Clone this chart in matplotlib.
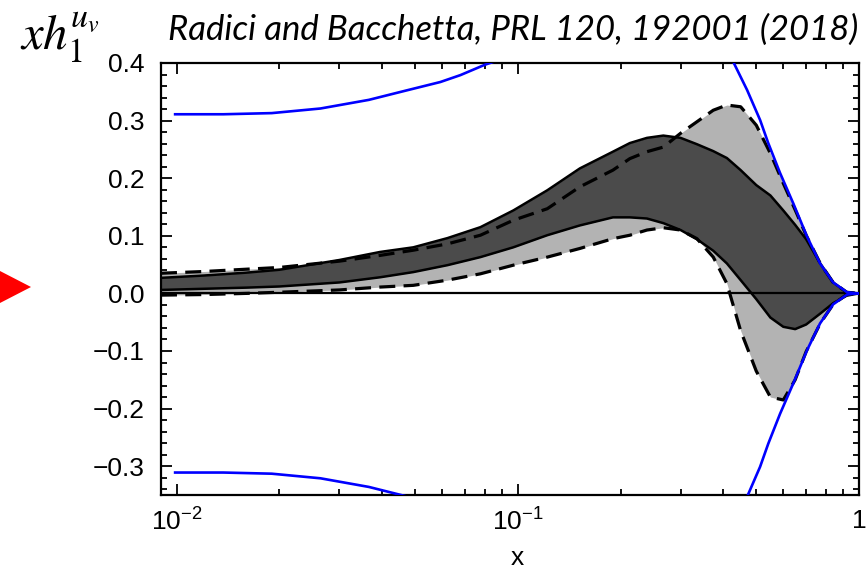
import matplotlib
matplotlib.use("Agg")
import matplotlib.pyplot as plt
from matplotlib.patches import Polygon
from matplotlib.ticker import FixedLocator, FixedFormatter, LogLocator, NullFormatter, MultipleLocator

# ---------------- data ----------------
x = [0.009, 0.012, 0.016, 0.02, 0.03, 0.0395, 0.0494, 0.0622, 0.0777, 0.097,
     0.122, 0.152, 0.19, 0.213, 0.239, 0.267, 0.30, 0.335, 0.374, 0.41,
     0.45, 0.50, 0.55, 0.60, 0.65, 0.70, 0.77, 0.84, 0.92, 1.0]

dark_upper = [0.027, 0.031, 0.036, 0.041, 0.058, 0.072, 0.080, 0.096, 0.115, 0.144,
              0.179, 0.217, 0.246, 0.261, 0.270, 0.274, 0.270, 0.259, 0.247, 0.235,
              0.214, 0.188, 0.170, 0.144, 0.119, 0.094, 0.052, 0.019, 0.002, 0.0]

dark_lower = [0.006, 0.008, 0.010, 0.012, 0.019, 0.028, 0.037, 0.049, 0.063, 0.080,
              0.101, 0.118, 0.132, 0.132, 0.130, 0.122, 0.110, 0.094, 0.074, 0.052,
              0.023, -0.010, -0.042, -0.058, -0.062, -0.054, -0.035, -0.017, -0.004, 0.0]

light_upper = [0.035, 0.038, 0.042, 0.045, 0.056, 0.066, 0.075, 0.086, 0.101, 0.127,
               0.147, 0.185, 0.214, 0.234, 0.246, 0.254, 0.278, 0.298, 0.318, 0.327,
               0.324, 0.292, 0.243, 0.191, 0.145, 0.101, 0.052, 0.019, 0.002, 0.0]

light_lower = [-0.003, -0.002, 0.000, 0.002, 0.006, 0.011, 0.014, 0.023, 0.034, 0.049,
               0.063, 0.078, 0.095, 0.101, 0.110, 0.114, 0.110, 0.095, 0.063, 0.017,
               -0.065, -0.135, -0.180, -0.185, -0.150, -0.101, -0.052, -0.019, -0.002, 0.0]

# positivity bound (drawn as +/-), visible at small and large x
bound_left_x = [0.0099, 0.0137, 0.019, 0.0264, 0.0366, 0.0469, 0.0593, 0.0679, 0.0801, 0.0848, 0.095]
bound_left = [0.311, 0.311, 0.313, 0.321, 0.336, 0.352, 0.367, 0.379, 0.397, 0.402, 0.42]
bound_right_x = [0.40, 0.428, 0.470, 0.513, 0.542, 0.587, 0.641, 0.705, 0.769, 0.840, 0.923, 0.986, 1.0]
bound_right = [0.44, 0.402, 0.353, 0.301, 0.261, 0.209, 0.157, 0.098, 0.052, 0.019, 0.002, 0.0, 0.0]

xticks = [0.01, 0.1, 1.0]
xtick_labels = ["10$^{-2}$", "10$^{-1}$", "1"]
yticks = [-0.3, -0.2, -0.1, 0.0, 0.1, 0.2, 0.3, 0.4]
ytick_labels = ["\u22120.3", "\u22120.2", "\u22120.1", "0.0", "0.1", "0.2", "0.3", "0.4"]

title = "Radici and Bacchetta, PRL 120, 192001 (2018)"
ylabel = r"$\mathit{xh}_{\mathrm{1}}^{\mathit{u}_{\mathit{v}}}$"
xlabel = "x"

# ---------------- style ----------------
plt.rcParams["font.family"] = ["Liberation Sans", "DejaVu Sans"]
plt.rcParams["mathtext.fontset"] = "custom"
plt.rcParams["mathtext.rm"] = "Liberation Sans"
plt.rcParams["mathtext.it"] = "Liberation Sans:italic"
plt.rcParams["mathtext.default"] = "regular"

W, H = 866, 574
fig = plt.figure(figsize=(W / 100, H / 100), dpi=100)
L, R, T, B = 161, 859, 63, 495
ax = fig.add_axes([L / W, 1 - B / H, (R - L) / W, (B - T) / H])

light = "#b3b3b3"
dark = "#4b4b4b"
ax.fill_between(x, light_lower, light_upper, color=light, lw=0, zorder=1)
ax.fill_between(x, dark_lower, dark_upper, color=dark, lw=0, zorder=2)
ax.plot(x, light_upper, color="k", lw=2.3, dashes=(5, 2.6), zorder=3)
ax.plot(x, light_lower, color="k", lw=2.3, dashes=(5, 2.6), zorder=3)
ax.plot(x, dark_upper, color="k", lw=1.8, zorder=4)
ax.plot(x, dark_lower, color="k", lw=1.8, zorder=4)
ax.axhline(0, color="k", lw=1.6, zorder=5)

blue = "#0000ff"
for bx, bv in ((bound_left_x, bound_left), (bound_right_x, bound_right)):
    ax.plot(bx, bv, color=blue, lw=1.9, zorder=6)
    ax.plot(bx, [-v for v in bv], color=blue, lw=1.9, zorder=6)

ax.set_xscale("log")
ax.set_xlim(0.009, 1.0)
ax.set_ylim(-0.35, 0.4)

ax.xaxis.set_major_locator(FixedLocator(xticks))
ax.xaxis.set_major_formatter(FixedFormatter(xtick_labels))
ax.xaxis.set_minor_locator(LogLocator(base=10, subs=[2, 3, 4, 5, 6, 7, 8, 9]))
ax.xaxis.set_minor_formatter(NullFormatter())
ax.yaxis.set_major_locator(FixedLocator(yticks))
ax.yaxis.set_major_formatter(FixedFormatter(ytick_labels))
ax.yaxis.set_minor_locator(MultipleLocator(0.02))

ax.tick_params(which="both", direction="in", top=True, right=True, width=1.3,
               labelsize=19, colors="k")
ax.tick_params(which="major", length=8)
ax.tick_params(which="minor", length=4.5)
ax.tick_params(axis="y", pad=12)
ax.tick_params(axis="x", pad=10)
for s in ax.spines.values():
    s.set_linewidth(1.6)

fig.text(858 / W, 1 - 40 / H, title, ha="right", va="baseline",
         fontsize=25, style="italic", family=["Lato", "DejaVu Sans"])
fig.text(20 / W, 1 - 50 / H, ylabel, ha="left", va="baseline", fontsize=35,
         math_fontfamily="stix")
fig.text(517 / W, 1 - 565 / H, xlabel, ha="center", va="baseline", fontsize=19)

tri = Polygon([(0, 1 - 271 / H), (31 / W, 1 - 287 / H), (0, 1 - 303 / H)],
              closed=True, transform=fig.transFigure, color="#ff0000", lw=0)
fig.patches.append(tri)

fig.savefig("out.png", dpi=100)
